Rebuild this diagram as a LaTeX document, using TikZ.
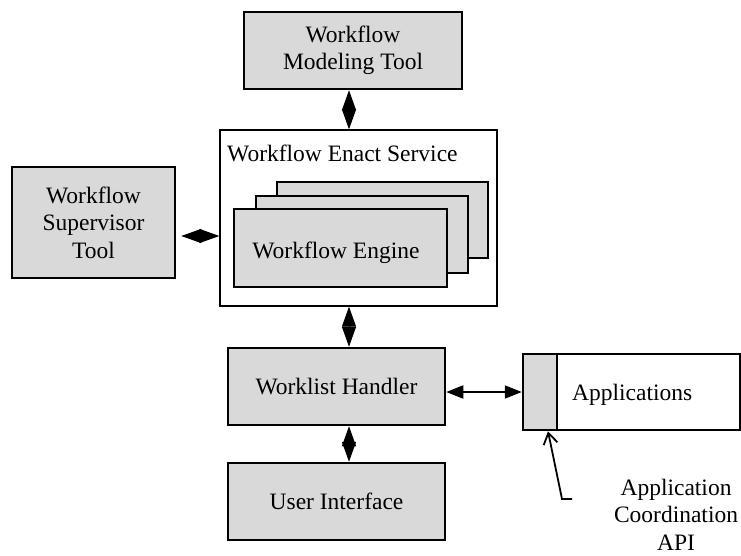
\documentclass[tikz,border=0pt]{standalone}
\usepackage{fontspec}
\setmainfont{Liberation Serif}
\usetikzlibrary{arrows.meta}
\definecolor{boxgray}{HTML}{D9D9D9}
\begin{document}
\begin{tikzpicture}[x=1pt,y=-1pt,
  font=\fontsize{23.5}{27.5}\selectfont,
  graybox/.style={draw=black,line width=2.5pt,fill=boxgray,minimum width=#1,inner sep=0pt,align=center},
  engbox/.style={draw=black,line width=2pt,fill=boxgray,minimum width=#1,inner sep=0pt},
  diam/.style={line width=1pt,{Triangle[length=20pt,width=14pt]}-{Triangle[length=20pt,width=14pt]}},
  dbl/.style={line width=2pt,{Triangle[length=17pt,width=13pt]}-{Triangle[length=17pt,width=13pt]}},
  barb/.style={line width=1.8pt,-{Straight Barb[length=11pt,width=14pt]}}]
\useasboundingbox (0,0) rectangle (741,555);
% boxes
\node[graybox=218pt,minimum height=77pt] (mod) at (353,50.5) {Workflow\\Modeling Tool};
\node[graybox=163pt,minimum height=111pt] (sup) at (93.5,222.5) {Workflow\\Supervisor\\Tool};
\node[draw=black,line width=1.3pt,minimum width=277pt,minimum height=176pt,inner sep=0pt] (enact) at (358.5,218) {};
\node[anchor=west,inner sep=0pt] (enactlbl) at (227,153) {Workflow Enact Service};
\node[engbox=211pt,minimum height=76pt] (eng3) at (382.5,220) {};
\node[engbox=212pt,minimum height=77pt] (eng2) at (362,234.5) {};
\node[engbox=213pt,minimum height=78pt] (eng1) at (340.5,248) {};
\node[inner sep=0pt] (englbl) at (336,253) {Workflow Engine};
\node[graybox=217pt,minimum height=77pt] (wl) at (336.5,386.5) {Worklist Handler};
\node[graybox=217pt,minimum height=77pt] (ui) at (336.5,501.5) {User Interface};
\node[draw=black,line width=2.5pt,fill=white,minimum width=217pt,minimum height=76pt,inner sep=0pt] (app) at (631.5,392) {};
\node[draw=black,line width=2.5pt,fill=boxgray,minimum width=34pt,minimum height=76pt,inner sep=0pt] (apl) at (540,392) {};
\node[anchor=west,inner sep=0pt] (applbl) at (572,395) {Applications};
\node[align=center,inner sep=0pt] (api) at (676,514.5) {Application\\Coordination\\API};
% helper coordinates
\coordinate (ax) at (349,0);
\coordinate (ay) at (0,236);
\coordinate (tipx) at (548,0);
\coordinate (bend) at (562,499);
\coordinate (apiend) at (572,499);
% connectors
\draw[diam] (ax |- mod.south) -- (ax |- enact.north);
\draw[diam] (ax |- enact.south) -- (ax |- wl.north);
\draw[diam] (ax |- wl.south) -- (ax |- ui.north);
\draw[diam,shorten <=5pt] (sup.east |- ay) -- (enact.west |- ay);
\draw[dbl] (wl.east |- apl.west) -- (apl.west);
\draw[barb] (apiend) -- (bend) -- (tipx |- apl.south);
\end{tikzpicture}
\end{document}
